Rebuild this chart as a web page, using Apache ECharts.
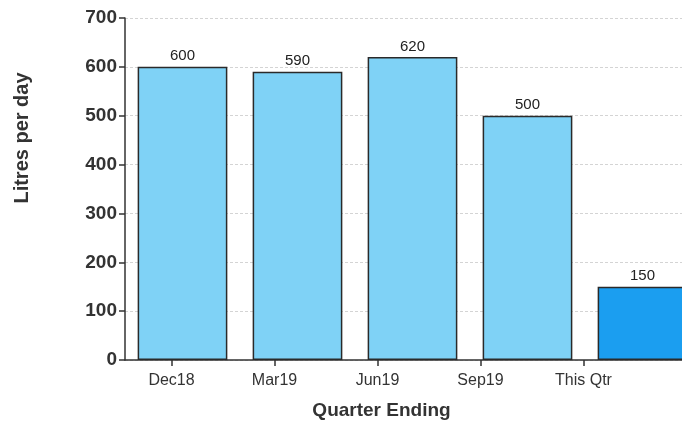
<!DOCTYPE html>
<html>
<head>
<meta charset="utf-8">
<script src="https://cdn.jsdelivr.net/npm/echarts@6/dist/echarts.min.js"></script>
<style>html,body{margin:0;padding:0;background:#fff;}#c{width:682px;height:423px;}</style>
</head>
<body>
<div id="c"></div>
<script>
var categories = ['Dec18', 'Mar19', 'Jun19', 'Sep19', 'This Qtr'];
var values = [600, 590, 620, 500, 150];
var yTicks = [0, 100, 200, 300, 400, 500, 600, 700];
var barColors = ['#7fd2f6', '#7fd2f6', '#7fd2f6', '#7fd2f6', '#1b9ef0'];

var chart = echarts.init(document.getElementById('c'));
var font = 'Liberation Sans, Arial, sans-serif';
chart.setOption({
  animation: false,
  grid: [
    {left: 125, width: 575, top: 18, bottom: 63, outerBoundsMode: 'none', containLabel: false},
    {left: 120, right: 47, top: 18, bottom: 63, outerBoundsMode: 'none', containLabel: false}
  ],
  xAxis: [
    {type: 'category', gridIndex: 0, data: categories,
     axisLine: {show: true, lineStyle: {color: '#333', width: 1.5}},
     axisTick: {show: false}, axisLabel: {show: false}},
    {type: 'category', gridIndex: 1, data: categories,
     axisLine: {show: false},
     axisTick: {show: true, alignWithLabel: true, length: 6, lineStyle: {color: '#333', width: 1.5}},
     axisLabel: {color: '#333', fontFamily: font, fontSize: 16, margin: 13},
     name: 'Quarter Ending', nameLocation: 'middle', nameGap: 41,
     nameTextStyle: {color: '#333', fontFamily: font, fontSize: 19, fontWeight: 'bold', padding: [0, 0, 0, 8]}}
  ],
  yAxis: [
    {type: 'value', gridIndex: 0, min: yTicks[0], max: yTicks[yTicks.length - 1], interval: 100,
     axisLine: {show: true, lineStyle: {color: '#333', width: 1.5}},
     axisTick: {show: true, length: 6, lineStyle: {color: '#333', width: 1.5}},
     axisLabel: {color: '#333', fontFamily: font, fontSize: 19, fontWeight: 'bold', margin: 8},
     splitLine: {show: true, lineStyle: {color: '#d4d4d4', type: [3, 2], width: 1}}},
    {type: 'value', gridIndex: 1, min: 0, max: 700, show: false}
  ],
  graphic: [
    {type: 'text', x: 22, y: 138, rotation: Math.PI / 2,
     style: {text: 'Litres per day', fill: '#333', font: 'bold 20px Liberation Sans, Arial, sans-serif',
             align: 'center', verticalAlign: 'middle'}}
  ],
  series: [{
    type: 'bar', xAxisIndex: 0, yAxisIndex: 0,
    barCategoryGap: '22%',
    data: values.map(function (v, i) {
      return {value: v, itemStyle: {color: barColors[i]}};
    }),
    itemStyle: {borderColor: '#2a2a2a', borderWidth: 1.5},
    label: {show: true, position: 'top', distance: 3, color: '#222', fontFamily: font, fontSize: 15}
  }]
});
</script>
</body>
</html>
